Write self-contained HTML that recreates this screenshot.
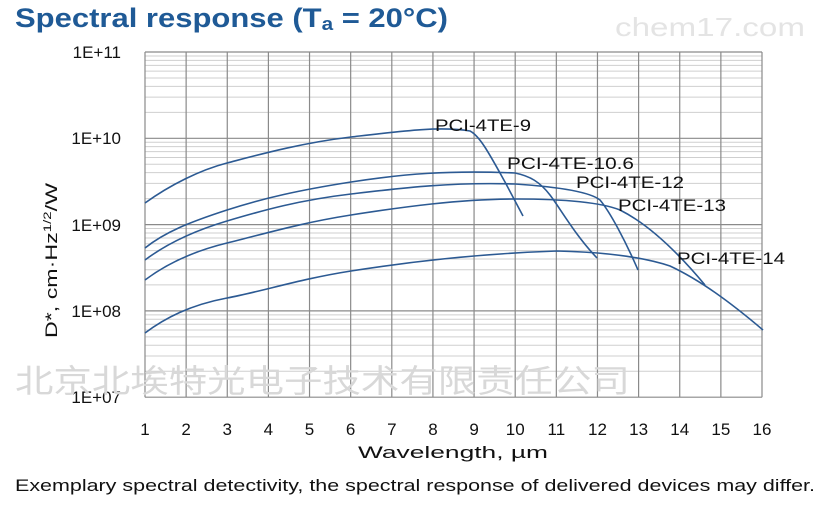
<!DOCTYPE html>
<html><head><meta charset="utf-8"><style>
body{margin:0;background:#fff;width:819px;height:508px;overflow:hidden;font-family:"Liberation Sans",sans-serif}
</style></head><body>
<svg width="819" height="508" xmlns="http://www.w3.org/2000/svg" font-family="Liberation Sans, sans-serif">
<text x="15" y="27" font-size="27" font-weight="bold" fill="#1f5a96" textLength="433" lengthAdjust="spacingAndGlyphs">Spectral response (T<tspan font-size="18" dy="3">a</tspan><tspan dy="-3"> = 20°C)</tspan></text>
<text x="615" y="36" font-size="26" fill="#e4e4e4" textLength="190" lengthAdjust="spacingAndGlyphs">chem17.com</text>
<g id="g"></g>
<g font-size="17" fill="#111" text-anchor="end">
<text x="121" y="58">1E+11</text><text x="121" y="144">1E+10</text><text x="121" y="231">1E+09</text><text x="121" y="317">1E+08</text><text x="121" y="403">1E+07</text>
</g>
<g font-size="17" fill="#111" text-anchor="middle" id="xt"></g>
<text x="453" y="458" font-size="17" fill="#111" text-anchor="middle" textLength="190" lengthAdjust="spacingAndGlyphs">Wavelength, µm</text>
<text transform="translate(57,338) rotate(-90)" font-size="17" fill="#111" textLength="155" lengthAdjust="spacingAndGlyphs">D*, cm·Hz<tspan font-size="11" dy="-6">1/2</tspan><tspan dy="6">/W</tspan></text>
<text x="15" y="392" font-size="32" fill="#d8d8d8" font-family="Liberation Sans, Noto Sans CJK SC, sans-serif" textLength="615" lengthAdjust="spacingAndGlyphs">北京北埃特光电子技术有限责任公司</text>
<g fill="none" stroke="#2c5a93" stroke-width="1.6">
<path d="M145,203 C170,185 200,170 227,163 S300,143 351,137 S440,126 470,131 C480,136 490,155 505,182 L523,216"/>
<path d="M145,248 C165,232 190,222 227,210 S300,190 351,182 S450,170 515,173 C530,176 540,182 550,195 S575,235 597,258"/>
<path d="M145,260 C165,245 190,232 227,221 S300,200 351,194 S450,182 515,184 C560,187 590,192 600,200 C610,212 625,240 638,270"/>
<path d="M145,280 C165,265 190,252 227,243 S300,223 351,215 S460,199 515,199 C560,199 600,202 620,210 C650,225 680,255 705,285"/>
<path d="M145,333 C165,318 190,305 227,298 S300,279 351,271 S470,254 557,251 C600,252 640,256 670,266 C700,280 730,302 763,330"/>
</g>
<g font-size="17" fill="#111">
<text x="435" y="131" textLength="96" lengthAdjust="spacingAndGlyphs">PCI-4TE-9</text>
<text x="507" y="169" textLength="127" lengthAdjust="spacingAndGlyphs">PCI-4TE-10.6</text>
<text x="576" y="188" textLength="108" lengthAdjust="spacingAndGlyphs">PCI-4TE-12</text>
<text x="618" y="211" textLength="108" lengthAdjust="spacingAndGlyphs">PCI-4TE-13</text>
<text x="677" y="264" textLength="108" lengthAdjust="spacingAndGlyphs">PCI-4TE-14</text>
</g>
<text x="15" y="491" font-size="17" fill="#111" textLength="800" lengthAdjust="spacingAndGlyphs">Exemplary spectral detectivity, the spectral response of delivered devices may differ.</text>
</svg>
<script>
var ns="http://www.w3.org/2000/svg",g=document.getElementById("g"),xt=document.getElementById("xt");
function ln(x1,y1,x2,y2,c,w){var l=document.createElementNS(ns,"line");l.setAttribute("x1",x1);l.setAttribute("y1",y1);l.setAttribute("x2",x2);l.setAttribute("y2",y2);l.setAttribute("stroke",c);l.setAttribute("stroke-width",w);g.appendChild(l);}
var L=145,R=762,T=52,D=86.3;
for(var d=0;d<4;d++){for(var k=2;k<10;k++){var y=T+D*(d+1)-Math.log10(k)*D;ln(L,y,R,y,"#cfcfcf",1);}}
for(var d=0;d<=4;d++){var y=T+D*d;ln(L,y,R,y,"#8a8a8a",1.2);}
for(var i=0;i<16;i++){var x=L+i*(R-L)/15;ln(x,T,x,T+4*D,"#8a8a8a",1.2);
var t=document.createElementNS(ns,"text");t.setAttribute("x",x);t.setAttribute("y",435);t.textContent=i+1;xt.appendChild(t);}
</script>
</body></html>
